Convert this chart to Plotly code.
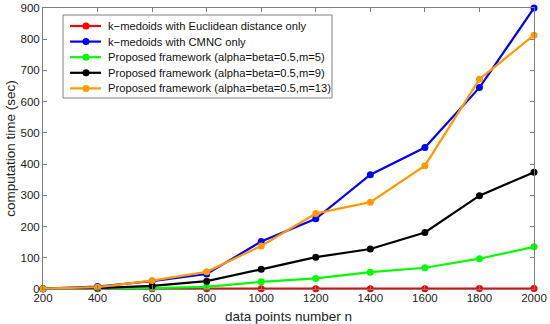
import plotly.graph_objects as go

n_points = [200, 400, 600, 800, 1000, 1200, 1400, 1600, 1800, 2000]
euclid = [0.5, 0.6, 0.7, 0.8, 0.9, 1.0, 1.1, 1.2, 1.3, 1.4]
cmnc = [1, 8, 25, 48, 152, 225, 366, 453, 645, 900]
pf_m5 = [0.5, 1.5, 3, 7, 23, 34, 54, 68, 97, 135]
pf_m9 = [0.5, 3, 10, 25, 63, 102, 128, 181, 299, 374]
pf_m13 = [1, 6, 27, 55, 138, 242, 278, 395, 672, 813]

names = [
    "k\u2212medoids with Euclidean distance only",
    "k\u2212medoids with CMNC only",
    "Proposed framework (alpha=beta=0.5,m=5)",
    "Proposed framework (alpha=beta=0.5,m=9)",
    "Proposed framework (alpha=beta=0.5,m=13)",
]
series = [euclid, cmnc, pf_m5, pf_m9, pf_m13]
colors = ["#ff0000", "#0000ff", "#00ff00", "#000000", "#ff9900"]

FONT = "Liberation Sans, Arial, Helvetica, sans-serif"
W, H = 550, 324
# plot area in window pixels (page body margin removed below)
PL, PR, PT, PB = 43, 534, 8, 289
ML, MR, MT, MB = PL, W - PR, PT, H - PB
PW, PH = PR - PL, PB - PT

fig = go.Figure()
for nm, ys, c in zip(names, series, colors):
    fig.add_trace(go.Scatter(
        x=n_points, y=ys, name=nm, mode="lines+markers",
        line=dict(color=c, width=2.2),
        marker=dict(color=c, size=7),
        showlegend=False, cliponaxis=False,
    ))

# manual legend (layout decoration, in paper coordinates)
def px(xp):
    return (xp - PL) / PW

def py(yp):
    return (PB - yp) / PH

shapes = [dict(type="rect", xref="paper", yref="paper",
               x0=px(63), x1=px(332), y0=py(98), y1=py(15),
               line=dict(color="#808080", width=1), fillcolor="white", layer="above")]
annotations = []
row0, dy = 26, 15.6
for i, (nm, c) in enumerate(zip(names, colors)):
    yc = row0 + i * dy
    shapes.append(dict(type="line", xref="paper", yref="paper",
                       x0=px(70), x1=px(101), y0=py(yc), y1=py(yc),
                       line=dict(color=c, width=2.2), layer="above"))
    shapes.append(dict(type="circle", xref="paper", yref="paper",
                       x0=px(82.5), x1=px(89.5), y0=py(yc + 3.5), y1=py(yc - 3.5),
                       line=dict(color=c, width=0), fillcolor=c, layer="above"))
    annotations.append(dict(xref="paper", yref="paper", x=px(106), y=py(yc),
                            xanchor="left", yanchor="middle", showarrow=False,
                            text=nm, font=dict(family=FONT, size=11.2, color="#111")))

axis_common = dict(
    showline=True, linecolor="#808080", linewidth=1, mirror="ticks",
    ticks="inside", ticklen=4, tickcolor="#808080",
    showgrid=False, zeroline=False, automargin=False,
    ticklabeloverflow="allow",
    tickfont=dict(family=FONT, size=11.5, color="#222"),
)

fig.update_layout(
    width=W, height=H,
    margin=dict(l=ML, r=MR, t=MT, b=MB, pad=0),
    paper_bgcolor="white", plot_bgcolor="white",
    font=dict(family=FONT, color="#222"),
    xaxis=dict(range=[200, 2000], tickvals=n_points,
               title=dict(text="data points number n", font=dict(size=13.5), standoff=8),
               ticklabelstandoff=-2,
               **axis_common),
    yaxis=dict(range=[0, 900], tickvals=list(range(0, 901, 100)),
               title=dict(text="computation time (sec)", font=dict(size=13.5), standoff=1),
               **axis_common),
    shapes=shapes,
    annotations=annotations,
    showlegend=False,
    hovermode=False,
)

fig.write_html("out.html", config={"displayModeBar": False},
               post_script="document.body.style.margin='0px';")
